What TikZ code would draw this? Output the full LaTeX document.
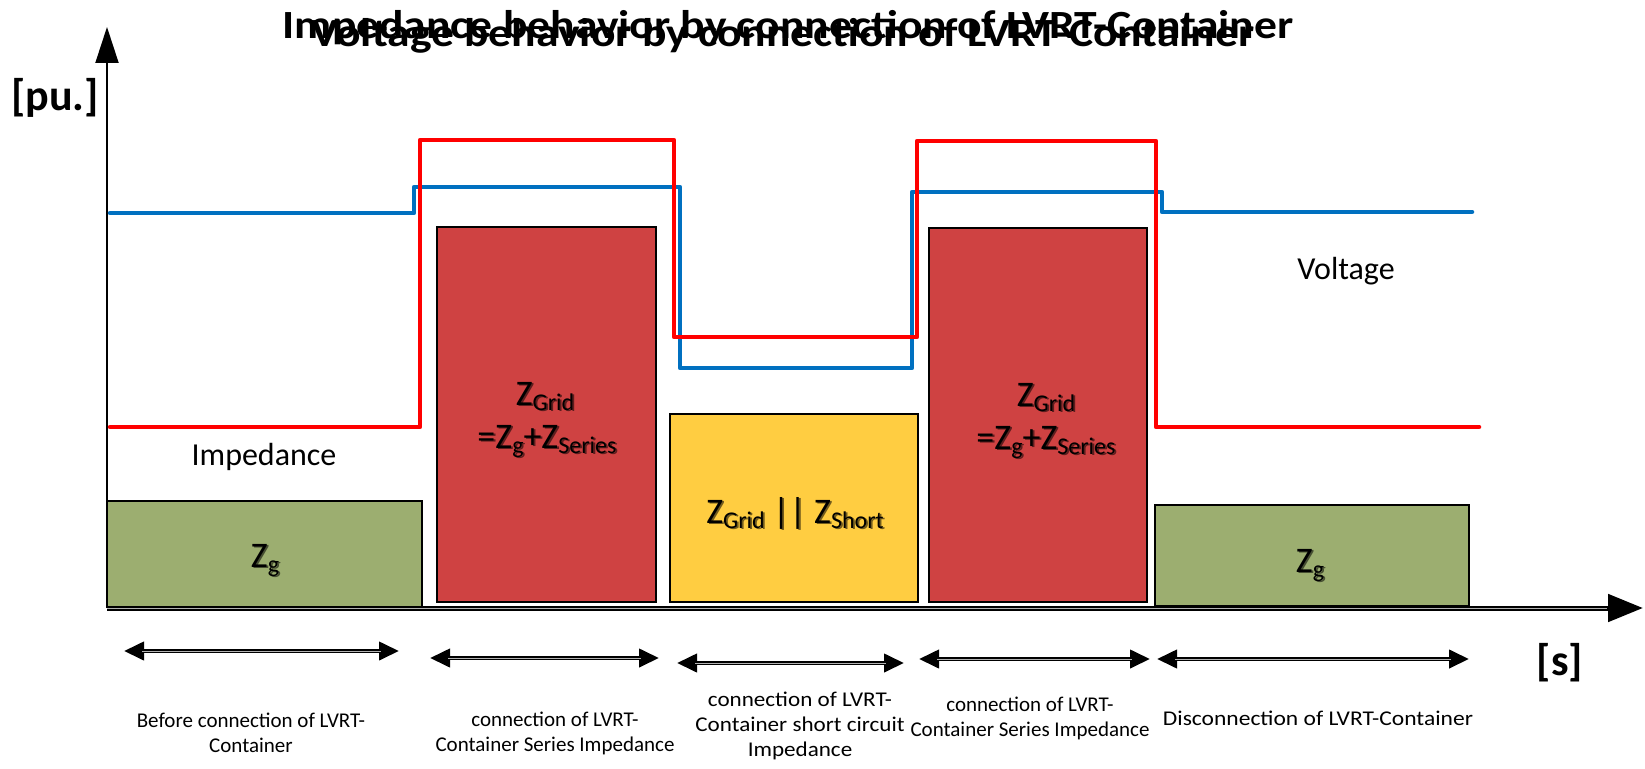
\documentclass[tikz,border=0pt]{standalone}
\usepackage{fontspec}
\setmainfont{Carlito}
\usetikzlibrary{arrows.meta,calc}

\definecolor{zgreen}{RGB}{156,174,112}
\definecolor{zred}{RGB}{207,66,66}
\definecolor{zyellow}{RGB}{255,205,65}
\definecolor{vblue}{RGB}{0,112,192}
\definecolor{ired}{RGB}{255,0,0}

% impedance symbol with a lowered subscript
\newcommand{\zimp}[1]{Z\raisebox{-5pt}{\fontsize{24}{24}\selectfont #1}}

\tikzset{
  stateblock/.style={draw=black, line width=2.5pt, inner sep=0pt, outer sep=0pt},
  greenblock/.style={stateblock, fill=zgreen},
  redblock/.style={stateblock, fill=zred},
  yellowblock/.style={stateblock, fill=zyellow},
  zlabel/.style={font=\fontsize{36}{36}\selectfont, inner sep=0pt, anchor=base},
  curvelabel/.style={font=\fontsize{32}{32}\selectfont, inner sep=0pt, anchor=base},
  unitlabel/.style={font=\fontsize{44}{44}\selectfont\bfseries, inner sep=0pt},
  titletext/.style={font=\fontsize{40}{40}\selectfont\bfseries, inner sep=0pt, anchor=base, xscale=1.14},
  phasetext/.style={font=\fontsize{21}{25}\selectfont, align=center, inner sep=0pt},
  voltcurve/.style={draw=vblue, line width=4.5pt, line join=round, line cap=round},
  impcurve/.style={draw=ired, line width=4.5pt, line join=round, line cap=round},
  axisline/.style={draw=black, line width=2pt},
  spanarrow/.style={draw=black, line width=4pt,
    {Triangle[length=20pt,width=18pt]}-{Triangle[length=20pt,width=18pt]}},
  spancore/.style={draw=gray!60, line width=0.8pt, shorten <=18pt, shorten >=18pt},
}

% text with a dark drop shadow
\newcommand{\shadowed}[4]{%
  \node[zlabel, text=#3] at ($(#1)+(1.8,1.8)$) {#4};
  \node[zlabel] (#2) at (#1) {#4};}

\begin{document}
\begin{tikzpicture}[x=1pt,y=-1pt]
\useasboundingbox (0,0) rectangle (1645,768);

% titles (two overlapping headings)
\node[titletext] (titleimp) at (788,38) {Impedance behavior by connection of LVRT-Container};
\node[titletext] (titlevolt) at (783,47) {Voltage behavior by connection of LVRT-Container};

% state blocks
\node[greenblock, minimum width=315pt, minimum height=106pt] (g1) at (264.5,554) {};
\node[redblock, minimum width=219pt, minimum height=375pt] (r1) at (546.5,414.5) {};
\node[yellowblock, minimum width=248pt, minimum height=188pt] (y1) at (794,508) {};
\node[redblock, minimum width=218pt, minimum height=374pt] (r2) at (1038,415) {};
\node[greenblock, minimum width=314pt, minimum height=101pt] (g2) at (1312,555.5) {};

% block labels
\coordinate (g1t) at (265,567);
\shadowed{g1t}{g1lab}{zgreen!45!black}{\zimp{g}}
\coordinate (r1t) at (545,405);
\shadowed{r1t}{r1lab}{zred!45!black}{\zimp{Grid}}
\coordinate (r1b) at (547,448);
\shadowed{r1b}{r1labb}{zred!45!black}{=\zimp{g}+\zimp{Series}}
\coordinate (y1t) at (795,523);
\shadowed{y1t}{y1lab}{zyellow!45!black}{\zimp{Grid} || \zimp{Short}}
\coordinate (r2t) at (1046,406);
\shadowed{r2t}{r2lab}{zred!45!black}{\zimp{Grid}}
\coordinate (r2b) at (1046,449);
\shadowed{r2b}{r2labb}{zred!45!black}{=\zimp{g}+\zimp{Series}}
\coordinate (g2t) at (1310,572);
\shadowed{g2t}{g2lab}{zgreen!45!black}{\zimp{g}}

% axes
\coordinate (origin) at (107,608);
\coordinate (ytip) at (107,27);
\coordinate (xtip) at (1643,608);
\draw[axisline, -{Triangle[length=36pt,width=23pt]}] (origin) -- (ytip);
\draw[draw=black, line width=5pt, -{Triangle[length=35pt,width=27pt]}] (origin) -- (xtip);
\draw[draw=gray!60, line width=0.8pt, shorten >=36pt] (origin) -- (xtip);
\node[unitlabel] (pu) at (55,98) {[pu.]};
\node[unitlabel] (sec) at (1560,663) {[s]};

% voltage curve
\draw[voltcurve] (110,213) -- (414,213) -- (414,187) -- (680,187) -- (680,368)
  -- (912,368) -- (912,192) -- (1162,192) -- (1162,212) -- (1472,212);
% impedance curve
\draw[impcurve] (110,427) -- (420,427) -- (420,140) -- (674,140) -- (674,337)
  -- (917,337) -- (917,141) -- (1156,141) -- (1156,427) -- (1479,427);

\node[curvelabel] (implab) at (264,465) {Impedance};
\node[curvelabel] (voltlab) at (1346,279) {Voltage};

% phase spans
\coordinate (s1a) at (124,651); \coordinate (s1b) at (399,651);
\coordinate (s2a) at (430,658); \coordinate (s2b) at (659,658);
\coordinate (s3a) at (677,663); \coordinate (s3b) at (904,663);
\coordinate (s4a) at (919,659); \coordinate (s4b) at (1150,659);
\coordinate (s5a) at (1157,659); \coordinate (s5b) at (1469,659);
\foreach \s in {1,...,5}{
  \draw[spanarrow] (s\s a) -- (s\s b);
  \draw[spancore] (s\s a) -- (s\s b);
}

\node[phasetext] (p1) at (251,733) {Before connection of LVRT-\\Container};
\node[phasetext] (p2) at (555,733) {connection of LVRT-\\Container Series Impedance};
\node[phasetext, xscale=1.1] (p3) at (800,726) {connection of LVRT-\\Container short circuit\\Impedance};
\node[phasetext] (p4) at (1030,718) {connection of LVRT-\\Container Series Impedance};
\node[phasetext, xscale=1.12] (p5) at (1318,718) {Disconnection of LVRT-Container};
\end{tikzpicture}
\end{document}
